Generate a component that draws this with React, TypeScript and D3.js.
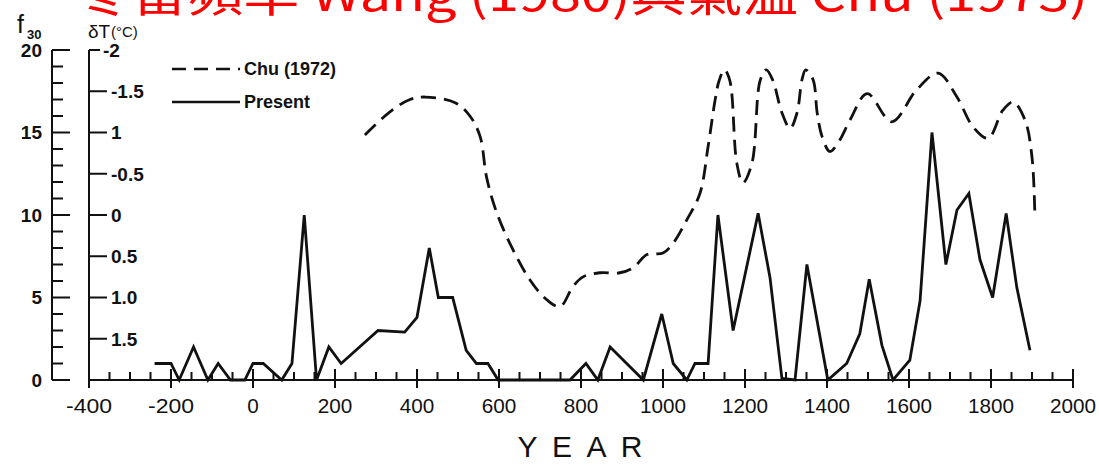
import * as d3 from 'd3';
import * as React from 'react';

// "Present" series: winter thunder frequency f30
const presentYears = [-240, -200, -180, -145, -110, -85, -55, -20, 0, 25, 70, 95, 125, 155, 185, 215, 305, 370, 400, 430, 452, 487, 520, 545, 573, 598, 773, 812, 841, 871, 952, 997, 1025, 1058, 1078, 1110, 1134, 1171, 1232, 1261, 1290, 1322, 1351, 1402, 1448, 1480, 1503, 1534, 1561, 1602, 1627, 1656, 1690, 1717, 1746, 1773, 1804, 1837, 1863, 1895];
const presentF30 = [1, 1, 0, 2, 0, 1, 0, 0, 1, 1, 0, 1, 10, 0, 2, 1, 3, 2.9, 3.8, 8, 5, 5, 1.8, 1, 1, 0, 0, 1, 0, 2, 0, 4, 1, 0, 1, 1, 10, 3, 10.1, 6.2, 0.1, 0, 7, 0, 1, 2.8, 6.1, 2.1, 0, 1.2, 4.8, 15, 7, 10.3, 11.3, 7.3, 5, 10.1, 5.6, 1.8];

// Chu (1972) temperature departure, degrees C
const chuYears = [273, 334, 383, 420, 493, 529, 554, 570, 595, 634, 676, 717, 749, 780, 805, 846, 895, 927, 961, 1000, 1025, 1058, 1090, 1110, 1127, 1137, 1150, 1163, 1180, 1195, 1217, 1237, 1252, 1268, 1290, 1310, 1327, 1339, 1348, 1366, 1376, 1388, 1407, 1430, 1456, 1498, 1558, 1619, 1671, 1717, 1756, 1793, 1829, 1854, 1883, 1900, 1907];
const chuDeltaT = [-0.97, -1.25, -1.4, -1.43, -1.36, -1.2, -0.95, -0.45, -0.02, 0.42, 0.79, 1.03, 1.11, 0.87, 0.75, 0.7, 0.7, 0.64, 0.48, 0.46, 0.34, 0.06, -0.26, -0.83, -1.39, -1.63, -1.76, -1.63, -0.63, -0.39, -0.63, -1.63, -1.76, -1.63, -1.24, -1.05, -1.24, -1.64, -1.76, -1.64, -1.24, -0.95, -0.77, -0.9, -1.15, -1.47, -1.13, -1.52, -1.72, -1.43, -1.07, -0.93, -1.27, -1.37, -1.15, -0.7, 0.0];

const yearTicks = [-400, -200, 0, 200, 400, 600, 800, 1000, 1200, 1400, 1600, 1800, 2000];
const f30Ticks = [0, 5, 10, 15, 20];
const deltaTTicks = [-2, -1.5, -1, -0.5, 0, 0.5, 1, 1.5];
const deltaTLabels = ['-2', '-1.5', '1', '-0.5', '0', '0.5', '1.0', '1.5'];
const legendLabels = ['Chu (1972)', 'Present'];
const titleText = '冬雷頻率 Wang (1980)與氣溫 Chu (1973)';

const ink = '#111';
const font = '"Liberation Sans", Arial, sans-serif';

const App = () => {
  const x = d3.scaleLinear().domain([-400, 2000]).range([89, 1073]);
  const yF = d3.scaleLinear().domain([0, 20]).range([380, 50]);
  const yT = d3.scaleLinear().domain([2, -2]).range([380, 50]);

  const present = presentYears.map((yr, i) => [yr, presentF30[i]]);
  const chu = chuYears.map((yr, i) => [yr, chuDeltaT[i]]);

  const presentLine = d3
    .line<number[]>()
    .x((d) => x(d[0]))
    .y((d) => yF(d[1]))(present);
  const chuLine = d3
    .line<number[]>()
    .curve(d3.curveCatmullRom.alpha(0.5))
    .x((d) => x(d[0]))
    .y((d) => yT(d[1]))(chu);

  const minorYears = d3.range(-400, 2001, 50);
  const minorF30 = d3.range(0, 21, 1);

  return (
    <svg width={1099} height={465} style={{ position: 'absolute', left: 0, top: 0, background: '#fff' }}>
      <text x={76} y={11} fontSize={46} fill="#ff0000" fontFamily='"Noto Sans CJK TC", "Noto Sans", sans-serif' textLength={1012} lengthAdjust="spacingAndGlyphs">
        {titleText}
      </text>

      {/* axis titles */}
      <text x={17} y={33} fontSize={25} fill={ink} fontFamily={font}>
        f
      </text>
      <text x={27} y={39} fontSize={13} fill={ink} fontFamily={font} fontWeight="bold">
        30
      </text>
      <text x={88} y={38} fontSize={19} fill={ink} fontFamily={font}>
        δT
      </text>
      <text x={111} y={37} fontSize={15} fill={ink} fontFamily={font}>
        (°C)
      </text>

      {/* f30 axis */}
      <line x1={52} x2={52} y1={yF(20)} y2={yF(0)} stroke={ink} strokeWidth={2} />
      {minorF30.map((v) => (
        <line key={'mf' + v} x1={52} x2={v % 5 === 0 ? 70 : 63} y1={yF(v)} y2={yF(v)} stroke={ink} strokeWidth={2} />
      ))}
      {f30Ticks.map((v) => (
        <text key={'f' + v} x={42} y={yF(v)} dy="0.36em" textAnchor="end" fontSize={19} fill={ink} fontFamily={font} fontWeight="bold">
          {v}
        </text>
      ))}

      {/* deltaT axis */}
      <line x1={89} x2={89} y1={yT(-2)} y2={yT(2)} stroke={ink} strokeWidth={2} />
      {deltaTTicks.map((v, i) => (
        <g key={'t' + v}>
          <line x1={89} x2={i === 0 ? 100 : 107} y1={yT(v)} y2={yT(v)} stroke={ink} strokeWidth={2} />
          <text x={i === 0 ? 103 : 111} y={yT(v)} dy="0.36em" fontSize={19} fill={ink} fontFamily={font} fontWeight="bold">
            {deltaTLabels[i]}
          </text>
        </g>
      ))}

      {/* x axis */}
      <line x1={x(-400)} x2={x(2000)} y1={380} y2={380} stroke={ink} strokeWidth={2} />
      {minorYears.map((yr) => {
        const major = yr % 200 === 0;
        return <line key={'my' + yr} x1={x(yr)} x2={x(yr)} y1={major ? 369 : 372} y2={major ? 388 : 380} stroke={ink} strokeWidth={2} />;
      })}
      {yearTicks.map((yr) => (
        <text key={'y' + yr} x={x(yr)} y={406} dy="0.36em" textAnchor="middle" fontSize={20} fill={ink} fontFamily={font} textLength={String(yr).length * 11.5} lengthAdjust="spacingAndGlyphs">
          {yr}
        </text>
      ))}
      <text x={580} y={457} textAnchor="middle" fontSize={30} fill={ink} fontFamily={font} textLength={125} lengthAdjust="spacing">
        YEAR
      </text>

      {/* series */}
      <path d={chuLine || ''} fill="none" stroke={ink} strokeWidth={2.8} strokeDasharray="15 8" />
      <path d={presentLine || ''} fill="none" stroke={ink} strokeWidth={2.8} strokeLinejoin="miter" />

      {/* legend */}
      <line x1={172} x2={240} y1={69} y2={69} stroke={ink} strokeWidth={2.5} strokeDasharray="14 8" />
      <text x={244} y={69} dy="0.36em" fontSize={18} fill={ink} fontFamily={font} fontWeight="bold">
        {legendLabels[0]}
      </text>
      <line x1={172} x2={240} y1={102} y2={102} stroke={ink} strokeWidth={2.5} />
      <text x={244} y={102} dy="0.36em" fontSize={18} fill={ink} fontFamily={font} fontWeight="bold">
        {legendLabels[1]}
      </text>
    </svg>
  );
};

export default App;
